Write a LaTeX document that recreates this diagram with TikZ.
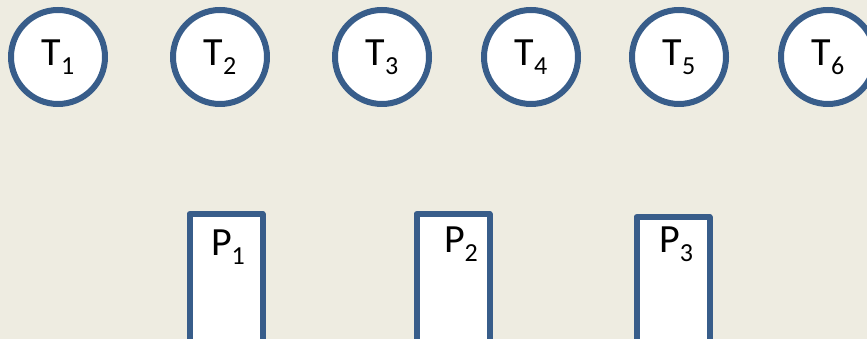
\documentclass[tikz,border=0pt]{standalone}
\usepackage{fontspec}
\setmainfont{Carlito}
\definecolor{paper}{RGB}{238,236,225}
\definecolor{edge}{RGB}{56,93,138}
\newcommand{\idx}[1]{\raisebox{-9pt}{\fontsize{26}{26}\selectfont #1}}
\begin{document}
\begin{tikzpicture}[x=1pt, y=1pt, line width=6pt, line join=round,
    main node/.style={circle,draw=edge,fill=white,minimum size=94pt,inner sep=0pt,font=\fontsize{40}{48}\selectfont},
    box node/.style={rectangle,draw=edge,fill=white,minimum width=73pt,minimum height=170pt,inner sep=0pt,anchor=north},
    box label/.style={anchor=base,inner sep=0pt,font=\fontsize{40}{48}\selectfont}]

                \fill[paper] (0, 0) rectangle (867, 339);
                \clip (0, 0) rectangle (867, 339);

                \node[main node] at (58, 282) (t1) {T\idx{1}};
                \node[main node] at (220, 282) (t2) {T\idx{2}};
                \node[main node] at (382, 282) (t3) {T\idx{3}};
                \node[main node] at (531, 282) (t4) {T\idx{4}};
                \node[main node] at (679, 282) (t5) {T\idx{5}};
                \node[main node] at (828, 282) (t6) {T\idx{6}};

                \node[box node] at (226, 128) (p1) {};
                \node[box node] at (453, 128) (p2) {};
                \node[box node] at (673, 125) (p3) {};

                \node[box label] at ([xshift=2, yshift=-45]p1.north) (l1) {P\idx{1}};
                \node[box label] at ([xshift=8, yshift=-42]p2.north) (l2) {P\idx{2}};
                \node[box label] at ([xshift=3, yshift=-39]p3.north) (l3) {P\idx{3}};
            \end{tikzpicture}
\end{document}
